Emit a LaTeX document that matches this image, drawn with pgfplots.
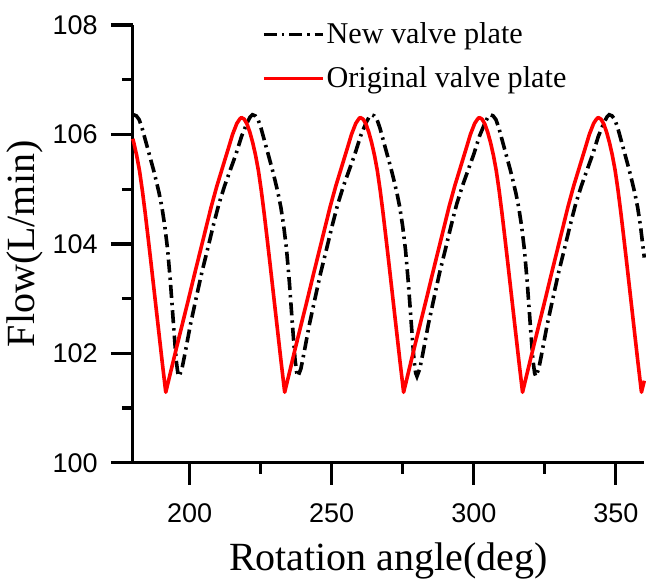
\documentclass[border=0pt]{standalone}
\usepackage{pgfplots}
\pgfplotsset{compat=1.18}
\usepackage{fontspec}
\setmainfont{Liberation Serif}
\newfontfamily\arialfont{Liberation Sans}
\usetikzlibrary{calc}
\begin{document}
\begin{tikzpicture}
\begin{axis}[
  scale only axis,
  width=255.75pt, height=218.9pt,
  xmin=180, xmax=360, ymin=100, ymax=108,
  clip=false,
  axis lines=left,
  axis line style={line width=1.6pt,-},
  xtick={200,250,300,350},
  ytick={100,102,104,106,108},
  minor x tick num=1,
  minor y tick num=1,
  tick align=outside,
  major tick length=11pt,
  minor tick length=5.5pt,
  every tick/.append style={black,line width=1.6pt},
  /pgf/number format/assume math mode=true,
  ticklabel style={font=\arialfont\fontsize{13.5}{15}\selectfont},
  xticklabel style={yshift=-6pt},
  yticklabel style={xshift=-3pt},
  xlabel={Rotation angle(deg)},
  ylabel={Flow(L/min)},
  label style={font=\fontsize{20}{22}\selectfont},
  xlabel style={yshift=-3pt},
  ylabel style={yshift=-2pt},
  legend cell align=left,
  legend style={draw=none, fill=none, at={(0.24,1.02)}, anchor=north west,
    font=\fontsize{15.1}{17}\selectfont,
    nodes={inner sep=1pt}, row sep=8pt},
  legend image code/.code={\draw[#1] (0pt,0pt) -- (29.5pt,0pt);},
]
\addplot[black, line width=1.6pt, forget plot, unbounded coords=jump] coordinates {
(200,100)(200,99.6)(200,nan)
(250,100)(250,99.6)(250,nan)
(300,100)(300,99.6)(300,nan)
(350,100)(350,99.6)
};
\addplot[black, line width=1.6pt, forget plot, unbounded coords=jump] coordinates {
(180,100)(172.2,100)(nan,100)
(180,102)(172.2,102)(nan,102)
(180,104)(172.2,104)(nan,104)
(180,106)(172.2,106)(nan,106)
(180,108)(172.2,108)
};
\addplot[black, line width=1.8pt, dash pattern=on 6.5pt off 2.5pt on 1.2pt off 2.5pt] coordinates {
(180,106.34)(180.25,106.36)
(181.25,106.34)(182.25,106.27)(183.25,106.12)(184.25,105.93)(185.25,105.74)(186.25,105.55)(187.25,105.36)(188.25,105.15)(189.25,104.93)(190.25,104.67)(191.25,104.33)(192.25,103.90)(193.25,103.30)(194.25,102.58)(195.25,101.88)(195.85,101.64)(196.3,101.58)
(197.3,101.72)(198.3,101.98)(200.3,102.53)(202.3,103.01)(204.3,103.48)(206.3,103.90)(208.3,104.33)(210.3,104.73)(212.3,105.06)(214.3,105.35)(216.3,105.64)(218.3,105.97)(220.3,106.22)(221.3,106.32)(222.1,106.36)
(223.1,106.34)(224.1,106.27)(225.1,106.12)(226.1,105.93)(227.1,105.74)(228.1,105.55)(229.1,105.36)(230.1,105.15)(231.1,104.93)(232.1,104.67)(233.1,104.33)(234.1,103.90)(235.1,103.30)(236.1,102.58)(237.1,101.88)(237.7,101.64)(238.15,101.58)
(239.15,101.72)(240.15,101.98)(242.15,102.53)(244.15,103.01)(246.15,103.48)(248.15,103.90)(250.15,104.33)(252.15,104.73)(254.15,105.06)(256.15,105.35)(258.15,105.64)(260.15,105.97)(262.15,106.22)(263.15,106.32)(263.95,106.36)
(264.95,106.34)(265.95,106.27)(266.95,106.12)(267.95,105.93)(268.95,105.74)(269.95,105.55)(270.95,105.36)(271.95,105.15)(272.95,104.93)(273.95,104.67)(274.95,104.33)(275.95,103.90)(276.95,103.30)(277.95,102.58)(278.95,101.88)(279.55,101.64)(280.0,101.58)
(281,101.72)(282,101.98)(284,102.53)(286,103.01)(288,103.48)(290,103.90)(292,104.33)(294,104.73)(296,105.06)(298,105.35)(300,105.64)(302,105.97)(304,106.22)(305,106.32)(305.8,106.36)
(306.8,106.34)(307.8,106.27)(308.8,106.12)(309.8,105.93)(310.8,105.74)(311.8,105.55)(312.8,105.36)(313.8,105.15)(314.8,104.93)(315.8,104.67)(316.8,104.33)(317.8,103.90)(318.8,103.30)(319.8,102.58)(320.8,101.88)(321.4,101.64)(321.85,101.58)
(322.85,101.72)(323.85,101.98)(325.85,102.53)(327.85,103.01)(329.85,103.48)(331.85,103.90)(333.85,104.33)(335.85,104.73)(337.85,105.06)(339.85,105.35)(341.85,105.64)(343.85,105.97)(345.85,106.22)(346.85,106.32)(347.65,106.36)
(348.65,106.34)(349.65,106.27)(350.65,106.12)(351.65,105.93)(352.65,105.74)(353.65,105.55)(354.65,105.36)(355.65,105.15)(356.65,104.93)(357.65,104.67)(358.65,104.33)(359.65,103.90)(360,103.75)
};
\addlegendentry{New valve plate}
\addplot[red, line width=1.8pt, line join=round] coordinates {
(180,105.92)(180.35,105.85)(181.35,105.62)(182.35,105.34)(183.35,104.98)(184.35,104.57)(185.35,104.13)(186.35,103.68)(187.35,103.22)(188.35,102.76)(189.35,102.30)(190.35,101.84)(191.6,101.29)
(193.6,101.72)(195.6,102.15)(197.6,102.57)(199.6,102.99)(201.6,103.42)(203.6,103.84)(205.6,104.26)(207.6,104.68)(209.6,105.06)(211.6,105.40)(213.6,105.74)(215.1,106.00)(216.6,106.20)(217.6,106.28)(218.2,106.31)
(219.2,106.28)(220.2,106.19)(221.2,106.04)(222.2,105.85)(223.2,105.62)(224.2,105.34)(225.2,104.98)(226.2,104.57)(227.2,104.13)(228.2,103.68)(229.2,103.22)(230.2,102.76)(231.2,102.30)(232.2,101.84)(233.45,101.29)
(235.45,101.72)(237.45,102.15)(239.45,102.57)(241.45,102.99)(243.45,103.42)(245.45,103.84)(247.45,104.26)(249.45,104.68)(251.45,105.06)(253.45,105.40)(255.45,105.74)(256.95,106.00)(258.45,106.20)(259.45,106.28)(260.05,106.31)
(261.05,106.28)(262.05,106.19)(263.05,106.04)(264.05,105.85)(265.05,105.62)(266.05,105.34)(267.05,104.98)(268.05,104.57)(269.05,104.13)(270.05,103.68)(271.05,103.22)(272.05,102.76)(273.05,102.30)(274.05,101.84)(275.3,101.29)
(277.3,101.72)(279.3,102.15)(281.3,102.57)(283.3,102.99)(285.3,103.42)(287.3,103.84)(289.3,104.26)(291.3,104.68)(293.3,105.06)(295.3,105.40)(297.3,105.74)(298.8,106.00)(300.3,106.20)(301.3,106.28)(301.9,106.31)
(302.9,106.28)(303.9,106.19)(304.9,106.04)(305.9,105.85)(306.9,105.62)(307.9,105.34)(308.9,104.98)(309.9,104.57)(310.9,104.13)(311.9,103.68)(312.9,103.22)(313.9,102.76)(314.9,102.30)(315.9,101.84)(317.15,101.29)
(319.15,101.72)(321.15,102.15)(323.15,102.57)(325.15,102.99)(327.15,103.42)(329.15,103.84)(331.15,104.26)(333.15,104.68)(335.15,105.06)(337.15,105.40)(339.15,105.74)(340.65,106.00)(342.15,106.20)(343.15,106.28)(343.75,106.31)
(344.75,106.28)(345.75,106.19)(346.75,106.04)(347.75,105.85)(348.75,105.62)(349.75,105.34)(350.75,104.98)(351.75,104.57)(352.75,104.13)(353.75,103.68)(354.75,103.22)(355.75,102.76)(356.75,102.30)(357.75,101.84)(359.0,101.29)
(360,101.50)
};
\addlegendentry{Original valve plate}
\end{axis}
\pgfresetboundingbox
\path[use as bounding box] ($(current axis.south west)+(-66.4pt,-60.65pt)$) rectangle ($(current axis.north east)+(0.85pt,12.5pt)$);
\end{tikzpicture}
\end{document}
